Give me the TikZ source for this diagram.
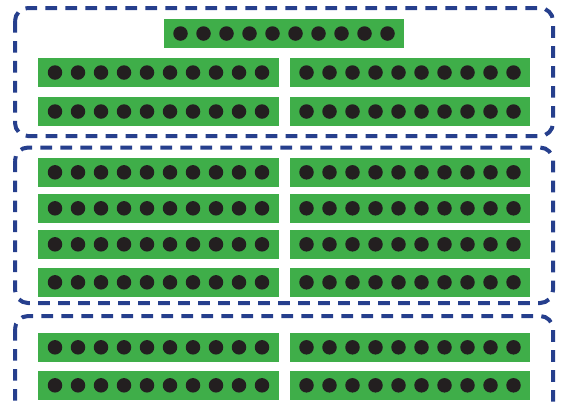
\documentclass[tikz,border=0pt]{standalone}
\usetikzlibrary{positioning}
\definecolor{mBlue}{HTML}{263F8D}
\definecolor{mGreen}{HTML}{3FAE49}
\definecolor{mDot}{HTML}{231F20}
\begin{document}
\begin{tikzpicture}[x=0.02cm, y=-0.02cm,
    bar/.style={fill=mGreen, minimum width=4.82cm, minimum height=0.58cm, inner sep=0pt},
    pin/.style={circle, fill=mDot, minimum size=0.29cm, inner sep=0pt},
    grp/.style={draw=mBlue, line width=0.08cm, dash pattern=on 0.234cm off 0.166cm, rounded corners=0.26cm}]
    \useasboundingbox (0,0) rectangle (563,407);
    \clip (0,0) rectangle (563,407);
    % dashed groups
    \draw[grp] (15,8) rectangle (553,136);
    \draw[grp] (15,147.5) rectangle (553,303);
    \draw[grp] (15,316) rectangle (553,432);
    % single bar on top
    \node[bar] (T) at (284,33.5) {};
    \foreach \i in {0,...,9} {
      \node[pin] (T-\i) at (180.5+\i*23,33.5) {};
    }
    % pairs of bars
    \foreach \y [count=\r] in {72.5,111.5,172.3,208.3,244.3,282.3,347.3,385.3} {
      \node[bar] (L\r) at (158.5,\y) {};
      \node[bar] (R\r) at (410,\y) {};
      \foreach \i in {0,...,9} {
        \node[pin] (L\r-\i) at (55+\i*23,\y) {};
        \node[pin] (R\r-\i) at (306.5+\i*23,\y) {};
      }
    }
\end{tikzpicture}
\end{document}
